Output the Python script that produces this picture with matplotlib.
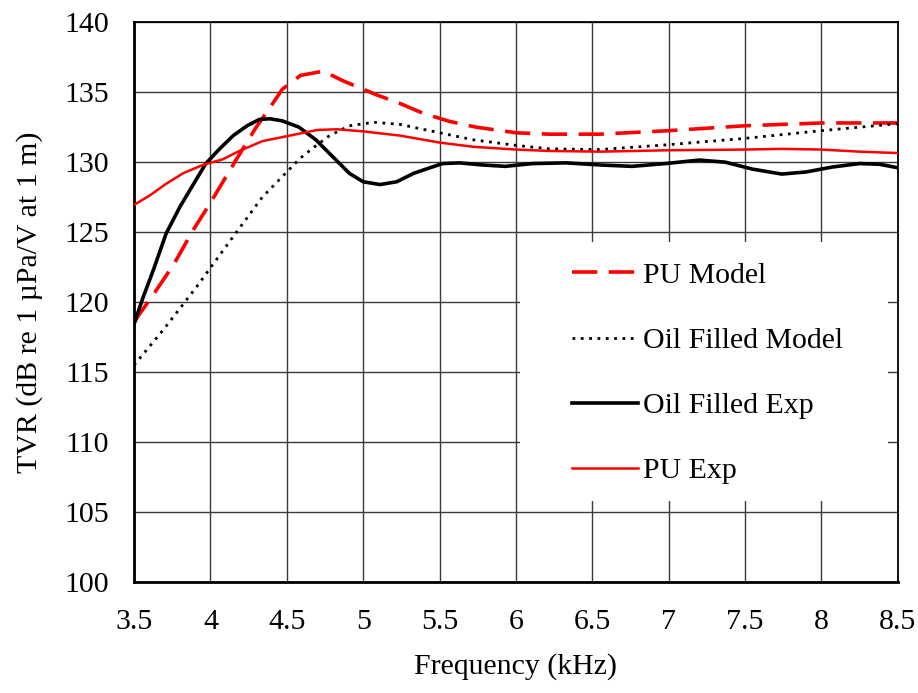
import matplotlib
matplotlib.use("Agg")
import matplotlib.pyplot as plt
from matplotlib.patches import Rectangle

plt.rcParams['font.family'] = ['Liberation Serif', 'DejaVu Serif']
plt.rcParams['lines.solid_joinstyle'] = 'round'
plt.rcParams['lines.dash_joinstyle'] = 'round'

# PU Model (red dashed)
pu_model_f = [3.50, 3.52, 3.63, 3.76, 3.89, 4.00, 4.17, 4.30, 4.39, 4.47, 4.59, 4.74, 4.87, 5.09, 5.24, 5.39,
              5.57, 5.74, 6.00, 6.22, 6.55, 7.00, 7.50, 8.00, 8.50]
pu_model_v = [118.5, 118.9, 120.6, 122.7, 125.2, 127.1, 130.2, 132.5, 133.9, 135.2, 136.2, 136.5, 135.8, 134.8, 134.2, 133.5,
              132.9, 132.5, 132.1, 132.0, 132.0, 132.25, 132.6, 132.8, 132.8]

# Oil Filled Model (black dotted)
oil_model_f = [3.50, 3.69, 3.91, 4.13, 4.34, 4.50, 4.59, 4.67, 4.78, 4.91, 5.07, 5.24, 5.50, 5.72, 6.00, 6.22, 6.55,
               7.00, 7.50, 8.00, 8.50]
oil_model_v = [115.5, 118.0, 121.1, 124.4, 127.5, 129.3, 130.3, 131.0, 131.9, 132.6, 132.85, 132.7, 132.1, 131.6, 131.2, 130.95, 130.9,
               131.25, 131.7, 132.25, 132.75]

# Oil Filled Exp (black solid thick)
oil_exp_f = [3.50, 3.56, 3.63, 3.71, 3.80, 3.89, 3.97, 4.06, 4.15, 4.24, 4.32, 4.39, 4.47, 4.58, 4.69, 4.80, 4.91,
             5.00, 5.11, 5.22, 5.33, 5.41, 5.52, 5.63, 5.78, 5.93, 6.11, 6.33, 6.55, 6.76, 6.98, 7.20, 7.37, 7.55,
             7.74, 7.90, 8.07, 8.25, 8.38, 8.50]
oil_exp_v = [118.45, 120.36, 122.4, 124.9, 126.8, 128.45, 129.9, 130.95, 131.9, 132.6, 133.05, 133.1, 132.95, 132.5, 131.6, 130.4, 129.2,
             128.6, 128.4, 128.6, 129.2, 129.5, 129.9, 129.95, 129.8, 129.7, 129.9, 129.95, 129.8, 129.7, 129.9, 130.15, 130.0, 129.5,
             129.15, 129.3, 129.65, 129.9, 129.85, 129.6]

# PU Exp (red solid thin)
pu_exp_f = [3.50, 3.60, 3.71, 3.82, 3.95, 4.08, 4.19, 4.34, 4.52, 4.70, 4.83, 5.00, 5.24, 5.50, 5.72, 6.00, 6.22, 6.55,
            7.00, 7.50, 7.74, 8.00, 8.25, 8.50]
pu_exp_v = [126.95, 127.6, 128.45, 129.2, 129.8, 130.2, 130.8, 131.5, 131.9, 132.3, 132.35, 132.2, 131.9, 131.4, 131.1, 130.9, 130.8, 130.75,
            130.85, 130.9, 130.95, 130.9, 130.75, 130.65]

x_ticks = [3.5, 4, 4.5, 5, 5.5, 6, 6.5, 7, 7.5, 8, 8.5]
x_tick_labels = ['3.5', '4', '4.5', '5', '5.5', '6', '6.5', '7', '7.5', '8', '8.5']
y_ticks = [100, 105, 110, 115, 120, 125, 130, 135, 140]

FS = 21.5

fig = plt.figure(figsize=(9.18, 6.93), dpi=100)
ax = fig.add_axes([0.146, 0.160, 0.832, 0.808])

ax.set_xlim(3.5, 8.5)
ax.set_ylim(100, 140)
ax.set_xticks(x_ticks)
ax.set_xticklabels(x_tick_labels)
ax.set_yticks(y_ticks)
ax.tick_params(axis='both', length=0, labelsize=FS, colors='black')
ax.tick_params(axis='x', pad=19)
ax.tick_params(axis='y', pad=18)
ax.set_axisbelow(True)
ax.grid(True, color='#3a3a3a', linewidth=1.0)
for side in ['left', 'bottom']:
    ax.spines[side].set_linewidth(2.0)
for side in ['top', 'right']:
    ax.spines[side].set_linewidth(1.3)

# white legend area covering the grid
ax.add_patch(Rectangle((6.025, 105.8), 8.435 - 6.025, 124.3 - 105.8,
                       facecolor='white', edgecolor='none', zorder=1))

l1, = ax.plot(pu_model_f, pu_model_v, color='#ff0000', linewidth=2.6,
              linestyle=(0, (7, 3.2)), zorder=3, label='PU Model')
l2, = ax.plot(oil_model_f, oil_model_v, color='black', linewidth=2.0,
              linestyle=(0, (1, 2.0)), zorder=3, label='Oil Filled Model')
l3, = ax.plot(oil_exp_f, oil_exp_v, color='black', linewidth=2.6,
              linestyle='-', zorder=3, label='Oil Filled Exp')
l4, = ax.plot(pu_exp_f, pu_exp_v, color='#ff0000', linewidth=1.8,
              linestyle='-', zorder=3, label='PU Exp')

ax.set_xlabel('Frequency (kHz)', fontsize=FS, labelpad=13)
ax.set_ylabel('TVR (dB re 1 µPa/V at 1 m)', fontsize=FS, labelpad=15)

leg = ax.legend(handles=[l1, l2, l3, l4], loc='upper left',
                bbox_to_anchor=(572 / 918, 1 - 262 / 693), bbox_transform=fig.transFigure,
                frameon=False, fontsize=FS, handlelength=2.2, handletextpad=0.17,
                labelspacing=1.28, borderpad=0, borderaxespad=0)

fig.savefig('out.png', dpi=100)
